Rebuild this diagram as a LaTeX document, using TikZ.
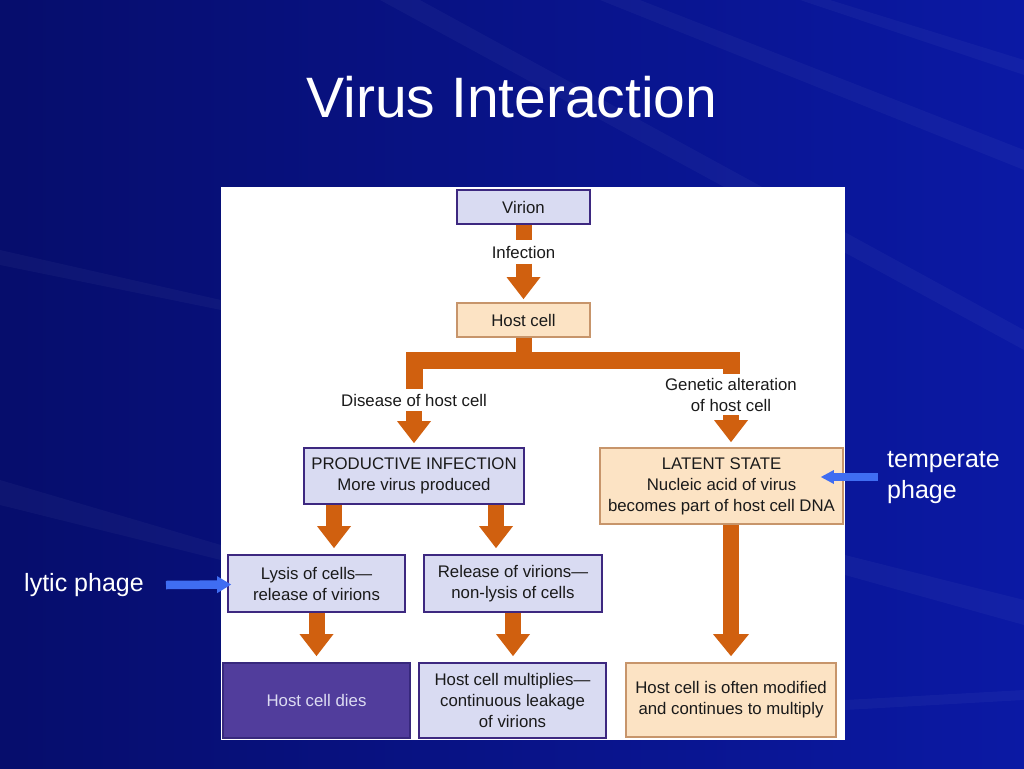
\documentclass[tikz,border=0pt]{standalone}
\usepackage{fontspec}
\setmainfont{Liberation Sans}
\usetikzlibrary{arrows.meta}
\definecolor{bgdark}{HTML}{060D6C}
\definecolor{bgblue}{HTML}{0B19A4}
\definecolor{orng}{HTML}{D0600F}
\definecolor{lavfill}{HTML}{D9DBF2}
\definecolor{lavdraw}{HTML}{3D2880}
\definecolor{peachfill}{HTML}{FCE3C4}
\definecolor{peachdraw}{HTML}{C7956B}
\definecolor{darkfill}{HTML}{513D9C}
\definecolor{darkdraw}{HTML}{37287C}
\definecolor{darktext}{HTML}{DCDCF2}
\definecolor{labtext}{HTML}{1A1A1A}
\definecolor{bluearrow}{HTML}{3F6DF2}
\tikzset{
  boxbase/.style={rectangle, line width=1.8pt, text=labtext, align=center,
    font=\fontsize{16.8}{21}\selectfont, inner sep=0pt},
  lavbox/.style={boxbase, fill=lavfill, draw=lavdraw},
  peachbox/.style={boxbase, fill=peachfill, draw=peachdraw},
  darkbox/.style={boxbase, fill=darkfill, draw=darkdraw, text=darktext},
  steplabel/.style={text=labtext, align=center, font=\fontsize{16.8}{21}\selectfont, inner sep=0pt},
  fatstem/.style={draw=orng, line width=16pt},
  fatarrow/.style={draw=orng, line width=16pt, -{Triangle[width=34pt,length=22pt,line width=0pt]}},
  bluearr/.style={draw=bluearrow, line width=8.5pt, -{Triangle[width=17pt,length=14pt,line width=0pt]}},
  sidetext/.style={text=white, font=\fontsize{25}{31}\selectfont, align=left, inner sep=0pt},
  streak/.style={fill=white, opacity=0.035}
}
\begin{document}
\begin{tikzpicture}[x=1pt,y=-1pt]
\useasboundingbox (0,0) rectangle (1024,768);
% background
\fill[left color=bgdark, right color=bgblue] (0,0) rectangle (1024,768);
\fill[streak] (600,0) -- (640,0) -- (1024,150) -- (1024,170) -- cycle;
\fill[streak] (800,0) -- (830,0) -- (1024,60) -- (1024,75) -- cycle;
\fill[streak] (380,0) -- (420,0) -- (1024,330) -- (1024,350) -- cycle;
\fill[streak] (845,555) -- (1024,600) -- (1024,625) -- (845,575) -- cycle;
\fill[streak] (0,480) -- (221,545) -- (221,560) -- (0,505) -- cycle;
\fill[streak] (0,250) -- (221,300) -- (221,310) -- (0,265) -- cycle;
\fill[streak] (845,700) -- (1024,690) -- (1024,700) -- (845,710) -- cycle;
% title
\node[anchor=base, text=white, font=\fontsize{57}{60}\selectfont] (title) at (512,117) {Virus Interaction};
% white panel
\fill[white] (221,187) rectangle (845,740);
% boxes
\node[lavbox, minimum width=133pt, minimum height=34pt] (virion) at (523.5,207) {Virion};
\node[peachbox, minimum width=133pt, minimum height=34pt] (host) at (523.5,320) {Host cell};
\node[lavbox, minimum width=220pt, minimum height=56pt] (prod) at (414,476) {PRODUCTIVE INFECTION\\More virus produced};
\node[peachbox, minimum width=243pt, minimum height=76pt] (latent) at (721.5,486) {LATENT STATE\\Nucleic acid of virus\\becomes part of host cell DNA};
\node[lavbox, minimum width=177pt, minimum height=57pt] (lysis) at (316.5,583.5) {Lysis of cells---\\release of virions};
\node[lavbox, minimum width=178pt, minimum height=57pt] (release) at (513,583.5) {Release of virions---\\non-lysis of cells};
\node[darkbox, minimum width=187pt, minimum height=75pt] (dies) at (316.5,700.5) {Host cell dies};
\node[lavbox, minimum width=187pt, minimum height=75pt] (mult) at (512.5,700.5) {Host cell multiplies---\\continuous leakage\\of virions};
\node[peachbox, minimum width=210pt, minimum height=74pt] (modif) at (731,700) {Host cell is often modified\\and continues to multiply};
% step labels
\node[steplabel, minimum height=23pt] (inf) at (523.5,252) {Infection};
\node[steplabel, minimum height=22pt] (dis) at (414,400) {Disease of host cell};
\node[steplabel, minimum height=41pt] (gen) at (731,394.5) {Genetic alteration\\of host cell};
\coordinate (junc) at (523.5,360);
% connectors
\draw[fatstem] (virion.south) -- (inf.north);
\draw[fatarrow, shorten >=3pt] (inf.south) -- (host.north);
\draw[fatstem] (host.south) -- (junc);
\draw[draw=orng, line width=17pt, line join=miter] (dis.north) -- (dis.north |- junc) -- (gen.north |- junc) -- (gen.north);
\draw[fatarrow, shorten >=4pt] (dis.south) -- (prod.north -| dis.south);
\draw[fatarrow, shorten >=5pt] (gen.south) -- (latent.north -| gen.south);
\draw[fatarrow, shorten >=6pt] ([xshift=-80pt]prod.south) -- ([xshift=17.5pt]lysis.north);
\draw[fatarrow, shorten >=6pt] ([xshift=82pt]prod.south) -- ([xshift=-17pt]release.north);
\draw[fatarrow, shorten >=6pt] (lysis.south) -- (dies.north);
\draw[fatarrow, shorten >=6pt] (release.south) -- (release.south |- mult.north);
\draw[fatarrow, -{Triangle[width=36pt,length=22pt,line width=0pt]}, shorten >=6pt] (latent.south -| modif.north) -- (modif.north);
% side labels
\node[sidetext, anchor=center] (lytic) at (84,585) {lytic phage};
\coordinate (lytS) at (166,585);
\draw[bluearr] (lytS) -- ([xshift=4pt,yshift=-1pt]lysis.west);
\node[sidetext, anchor=west] (temp) at (887,478) {temperate\\phage};
\coordinate (tempS) at (878,477);
\draw[draw=bluearrow, line width=8pt, -{Triangle[width=14pt,length=13pt,line width=0pt]}] (tempS) -- ([xshift=-23pt,yshift=9pt]latent.east);
\end{tikzpicture}
\end{document}
